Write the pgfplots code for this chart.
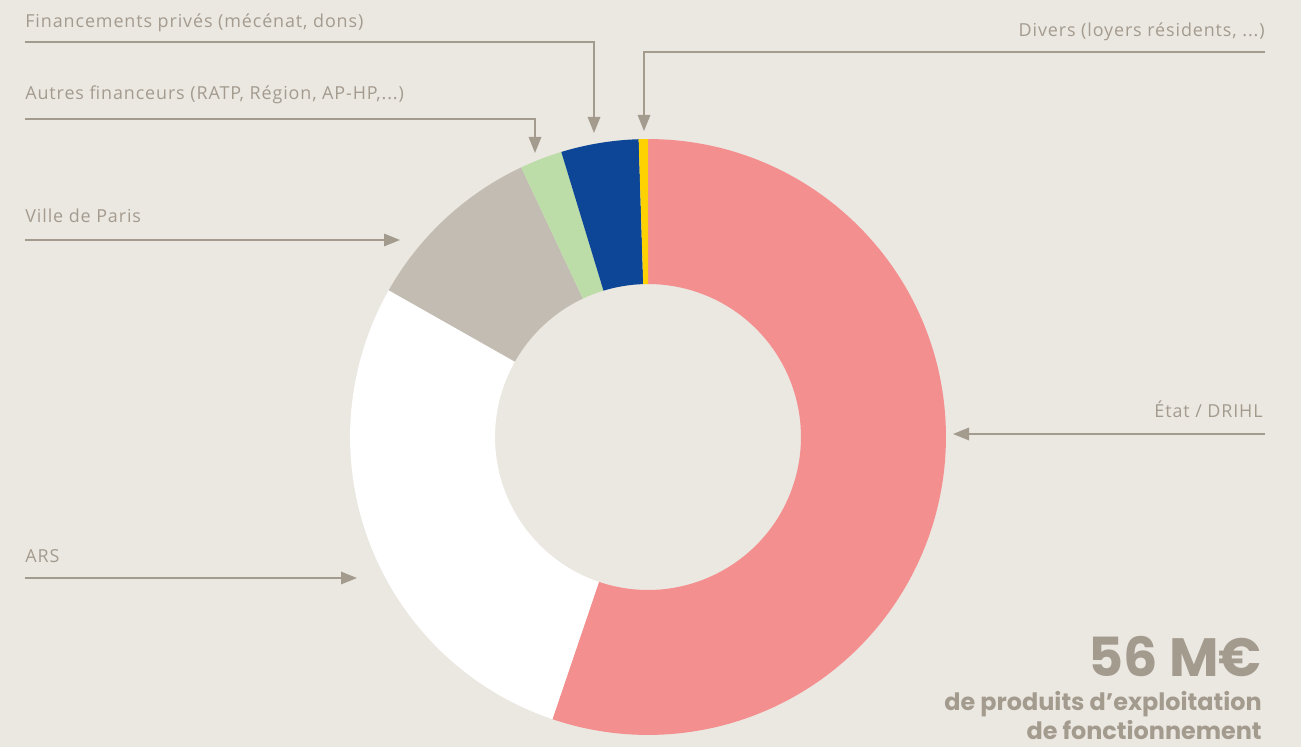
\documentclass[border=0pt]{standalone}
\usepackage{fontspec}
\usepackage{pgfplots}
\pgfplotsset{compat=1.18}
\usetikzlibrary{arrows.meta}
\setmainfont{Open Sans}[LetterSpace=5]
\newfontfamily\pop{Poppins}
\definecolor{BG}{HTML}{EBE7E1}
\definecolor{INK}{HTML}{A49B8F}
\definecolor{PINK}{HTML}{F48F90}
\definecolor{GREYS}{HTML}{C3BCB2}
\definecolor{GREEN}{HTML}{BCDCA8}
\definecolor{BLUE}{HTML}{0D4697}
\definecolor{YEL}{HTML}{FDD200}

% 1 px of the reference = 0.02cm
\def\Ro{5.96cm}
\def\Ri{3.06cm}
% share of total (%), clockwise from the top
\newcommand\slice[3]{%
  \fill[#1, shift={(axis cs:648,310)}]
    ({90-3.6*#2}:\Ro) arc[start angle={90-3.6*#2}, end angle={90-3.6*#3}, radius=\Ro]
    -- ({90-3.6*#3}:\Ri) arc[start angle={90-3.6*#3}, end angle={90-3.6*#2}, radius=\Ri]
    -- cycle;}

\begin{document}
\begin{tikzpicture}
\begin{axis}[
  x=0.02cm, y=0.02cm,
  xmin=0, xmax=1301, ymin=0, ymax=747,
  hide axis, clip=false,
]
\fill[BG] (axis cs:0,0) rectangle (axis cs:1301,747);
% État 55.2, ARS 28.0, Ville 9.8, Autres 2.3, Privés 4.2, Divers 0.5
\slice{PINK}{0}{55.2}
\slice{white}{55.2}{83.2}
\slice{GREYS}{83.2}{93.0}
\slice{GREEN}{93.0}{95.3}
\slice{BLUE}{95.3}{99.5}
\slice{YEL}{99.5}{100}

\tikzset{lbl/.style={text=INK, font=\fontsize{10.2pt}{12pt}\selectfont, inner sep=0pt},
  arr/.style={draw=INK, line width=0.9pt, -{Triangle[length=0.32cm, width=0.25cm]}}}
\draw[arr] (axis cs:25,705) -- (axis cs:594,705) -- (axis cs:594,614);
\draw[arr] (axis cs:1265,695) -- (axis cs:644,695) -- (axis cs:644,616);
\draw[arr] (axis cs:25,628) -- (axis cs:535,628) -- (axis cs:535,594);
\draw[arr] (axis cs:25,507) -- (axis cs:400,507);
\draw[arr] (axis cs:1265,313) -- (axis cs:953,313);
\draw[arr] (axis cs:25,169) -- (axis cs:357,169);

\node[lbl, anchor=base west] at (axis cs:25,719) {Financements privés (mécénat, dons)};
\node[lbl, anchor=base west] at (axis cs:25,647) {Autres financeurs (RATP, Région, AP-HP,...)};
\node[lbl, anchor=base west] at (axis cs:25,524) {Ville de Paris};
\node[lbl, anchor=base west] at (axis cs:25,184) {ARS};
\node[lbl, anchor=base east] at (axis cs:1265,710) {Divers (loyers résidents, ...)};
\node[lbl, anchor=base east] at (axis cs:1263,329) {État / DRIHL};

\node[text=INK, inner sep=0pt, anchor=base east, font=\pop\bfseries\fontsize{30.7pt}{32pt}\selectfont]
  at (axis cs:1262,71) {56 M€};
\node[text=INK, inner sep=0pt, anchor=base east, font=\pop\bfseries\fontsize{13.6pt}{15pt}\selectfont]
  at (axis cs:1262,37) {de produits d’exploitation};
\node[text=INK, inner sep=0pt, anchor=base east, font=\pop\bfseries\fontsize{13.6pt}{15pt}\selectfont]
  at (axis cs:1262,8) {de fonctionnement};
\end{axis}
\end{tikzpicture}
\end{document}
